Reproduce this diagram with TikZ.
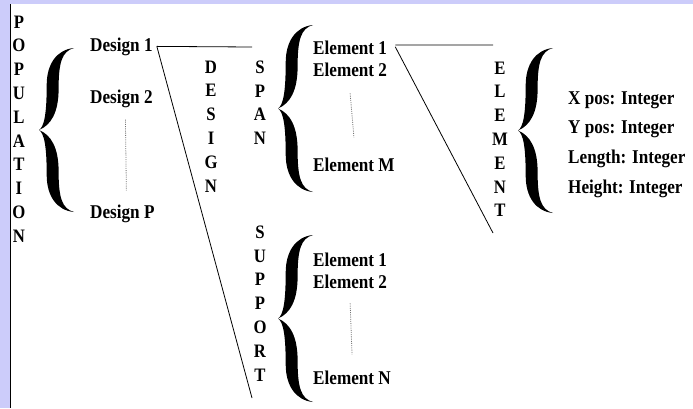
\documentclass[tikz,border=0pt]{standalone}
\usepackage{fontspec}
\setmainfont{Liberation Serif}[FakeStretch=0.88]
\definecolor{frameblue}{RGB}{204,204,250}

\tikzset{
  label/.style={font=\bfseries\fontsize{19.5}{22}\selectfont, inner sep=0pt, anchor=base west},
  column/.style={font=\bfseries\fontsize{19}{23.8}\selectfont, inner sep=0pt, anchor=north, align=center},
  dotted gap/.style={black!55, line width=0.8pt, dash pattern=on 1pt off 1.2pt},
  link/.style={line width=0.8pt},
  curly/.pic={
    \fill (1,1) .. controls (0.5,0.98) and (0.22,0.8) .. (0.22,0.55)
      .. controls (0.22,0.2) and (0.15,0.04) .. (0,0)
      .. controls (0.15,-0.04) and (0.22,-0.2) .. (0.22,-0.55)
      .. controls (0.22,-0.8) and (0.5,-0.98) .. (1,-1)
      .. controls (0.65,-0.96) and (0.56,-0.82) .. (0.56,-0.5)
      .. controls (0.56,-0.22) and (0.35,-0.06) .. (0,0)
      .. controls (0.35,0.06) and (0.56,0.22) .. (0.56,0.5)
      .. controls (0.56,0.82) and (0.65,0.96) .. (1,1) -- cycle;
  }
}

\begin{document}
\begin{tikzpicture}[x=1pt, y=-1pt]
\useasboundingbox (0,0) rectangle (693,408);
% frame
\fill[frameblue] (0,0) rectangle (693,4);
\fill[frameblue] (0,0) rectangle (10,408);
\draw[line width=1.2pt] (10.6,4) -- (10.6,408);

% population
\node[column] (popword) at (19,15.5) {P\\O\\P\\U\\L\\A\\T\\I\\O\\N};
\pic[xscale=35, yscale=82] (popbrace) at (39,130) {curly};
\node[label] (design1) at (90,51) {Design 1};
\node[label] (design2) at (90,103) {Design 2};
\node[label] (designP) at (90,218) {Design P};
\draw[dotted gap] ([xshift=4pt,yshift=-12pt]design2.south) -- ([xshift=4pt,yshift=14pt]designP.north);

% design
\coordinate (dtop) at (252,47);
\coordinate (dbot) at (252,398);
\draw[link] ([xshift=4pt]design1.east) -- (dtop);
\draw[link] ([xshift=4pt]design1.east) -- (dbot);
\node[column] (designword) at (211,60.5) {D\\E\\S\\I\\G\\N};

% span
\node[column] (spanword) at (260,60.5) {S\\P\\A\\N};
\pic[xscale=35, yscale=83.5] (spanbrace) at (278,108.5) {curly};
\node[label] (spanel1) at (313,54) {Element 1};
\node[label] (spanel2) at (313,76) {Element 2};
\node[label] (spanelM) at (313,171) {Element M};
\draw[dotted gap] ([yshift=-17pt]spanel2.south) -- ([yshift=20pt]spanelM.north);

% support
\node[column] (suppword) at (260,225.5) {S\\U\\P\\P\\O\\R\\T};
\pic[xscale=35, yscale=83.5] (suppbrace) at (278,318.5) {curly};
\node[label] (suppel1) at (313,266) {Element 1};
\node[label] (suppel2) at (313,288) {Element 2};
\node[label] (suppelN) at (313,384) {Element N};
\draw[dotted gap] ([yshift=-15pt]suppel2.south) -- ([yshift=16pt]suppelN.north);

% element
\coordinate (etop) at (493,45);
\coordinate (ebot) at (493,233);
\draw[link] ([xshift=8pt,yshift=2.4pt]spanel1.east) -- (etop);
\draw[link] ([xshift=8pt,yshift=0.5pt]spanel1.east) -- (ebot);
\node[column] (elemword) at (500,61.5) {E\\L\\E\\M\\E\\N\\T};
\pic[xscale=35, yscale=82.5] (elembrace) at (518,130.5) {curly};
\node[label] (xpos) at (568,104) {X pos: Integer};
\node[label] (ypos) at (568,133) {Y pos: Integer};
\node[label] (length) at (568,163) {Length: Integer};
\node[label] (height) at (568,193) {Height: Integer};
\end{tikzpicture}
\end{document}
